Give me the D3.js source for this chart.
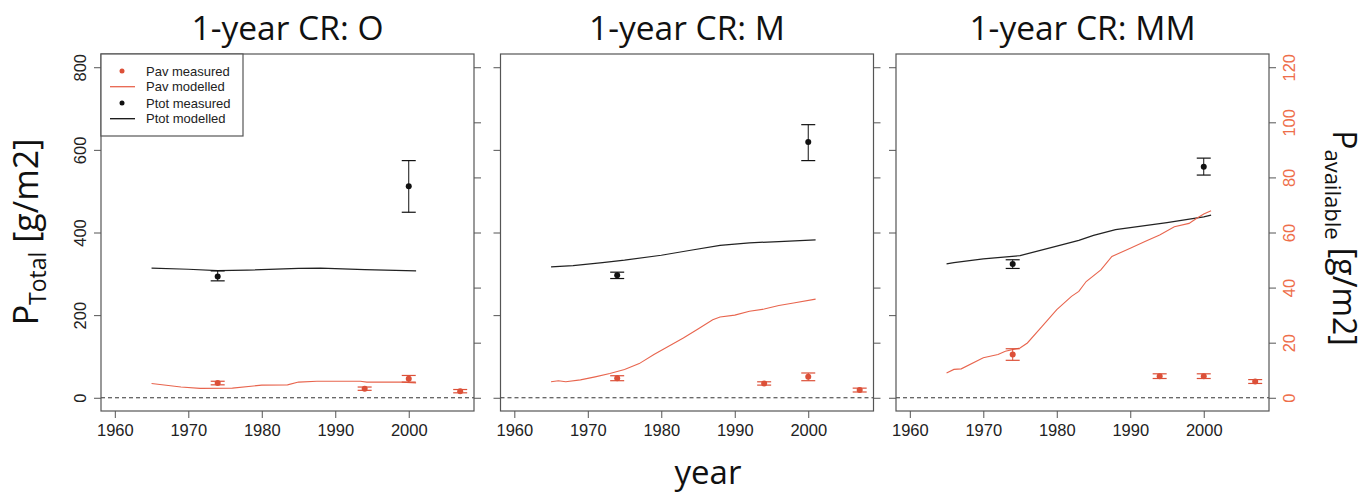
<!DOCTYPE html>
<html><head><meta charset="utf-8">
<script src="https://cdn.jsdelivr.net/npm/d3@7"></script>
<style>
html,body{margin:0;padding:0;background:#fff;}
svg{display:block;}
</style></head>
<body>
<svg id="chart" width="1367" height="494"></svg>
<script>
// ---------------- DATA ----------------
const panelTitles = ["1-year CR: O", "1-year CR: M", "1-year CR: MM"];
const xTicks = [1960, 1970, 1980, 1990, 2000];
const yLeftTicks = [0, 200, 400, 600, 800];
const yRightTicks = [0, 20, 40, 60, 80, 100, 120];
const legendLabels = ["Pav measured", "Pav modelled", "Ptot measured", "Ptot modelled"];

// Ptot modelled (left axis)
const ptotModYearsO = [1965, 1970, 1974, 1978, 1985, 1988, 1994, 2001];
const ptotModO      = [314, 311, 307.5, 309, 313, 314, 310, 307];
const ptotModYearsM = [1965, 1968, 1972, 1975, 1980, 1984, 1988, 1992, 1996, 2001];
const ptotModM      = [317, 320, 327, 333, 345, 357, 369, 375, 378, 382];
const ptotModYearsMM = [1965, 1966, 1970, 1975, 1980, 1983, 1985, 1988, 1990, 1995, 2000, 2001];
const ptotModMM      = [324, 327, 336, 344, 367, 381, 393, 407, 412, 424, 438, 442];

// Pav modelled (right axis)
const pavModYearsO = [1965, 1969, 1971.6, 1976, 1980, 1983.5, 1985, 1987.5, 1993.4, 1994.3, 1999, 2001];
const pavModO      = [5.2, 3.9, 3.4, 3.5, 4.6, 4.7, 5.7, 6.0, 6.0, 5.7, 5.7, 5.4];
const pavModYearsM = [1965, 1966, 1967, 1969, 1971, 1973, 1975, 1977, 1979, 1981, 1983, 1985, 1987, 1988, 1990, 1992, 1994, 1996, 1998, 2001];
const pavModM      = [5.8, 6.2, 5.8, 6.5, 7.6, 8.8, 10.3, 12.4, 15.7, 18.7, 21.7, 25.0, 28.3, 29.3, 30.0, 31.4, 32.2, 33.5, 34.4, 35.8];
const pavModYearsMM = [1965, 1966, 1967, 1970, 1972, 1973, 1975, 1976, 1978, 1980, 1982, 1983, 1984, 1986, 1987.5, 1990, 1992, 1994, 1996, 1998, 1999, 2000, 2001];
const pavModMM      = [9.0, 10.3, 10.5, 14.5, 15.7, 16.9, 18.1, 19.9, 25.9, 32.0, 36.8, 38.6, 42.2, 46.4, 51.3, 54.3, 56.7, 59.1, 62.1, 63.3, 65.1, 66.7, 67.9];

// Ptot measured (left axis): value, low, high
const ptotMeasYears = [1974, 2000];
const ptotMeasO  = [293.5, 512];
const ptotLoO    = [283, 449];
const ptotHiO    = [307, 574];
const ptotMeasM  = [296.7, 619];
const ptotLoM    = [288.6, 574];
const ptotHiM    = [304, 661];
const ptotMeasMM = [324, 559];
const ptotLoMM   = [313, 539];
const ptotHiMM   = [334, 580];

// Pav measured (right axis): value, low, high
const pavMeasYears = [1974, 1994, 2000, 2007];
const pavMeasO  = [5.4, 3.3, 6.9, 2.4];
const pavLoO    = [4.7, 2.7, 5.7, 1.8];
const pavHiO    = [6.0, 3.9, 8.1, 3.0];
const pavMeasM  = [7.1, 5.2, 7.6, 2.8];
const pavLoM    = [6.2, 4.6, 6.2, 2.1];
const pavHiM    = [8.0, 5.8, 9.0, 3.5];
const pavMeasMM = [15.7, 7.8, 7.8, 5.9];
const pavLoMM   = [13.6, 7.0, 7.0, 5.2];
const pavHiMM   = [17.8, 8.7, 8.7, 6.6];

// ---------------- BUILD ----------------
const panels = [
  {title: panelTitles[0], ptotYears: ptotModYearsO, ptot: ptotModO, pavYears: pavModYearsO, pav: pavModO,
   pm: ptotMeasO, pl: ptotLoO, ph: ptotHiO, am: pavMeasO, al: pavLoO, ah: pavHiO},
  {title: panelTitles[1], ptotYears: ptotModYearsM, ptot: ptotModM, pavYears: pavModYearsM, pav: pavModM,
   pm: ptotMeasM, pl: ptotLoM, ph: ptotHiM, am: pavMeasM, al: pavLoM, ah: pavHiM},
  {title: panelTitles[2], ptotYears: ptotModYearsMM, ptot: ptotModMM, pavYears: pavModYearsMM, pav: pavModMM,
   pm: ptotMeasMM, pl: ptotLoMM, ph: ptotHiMM, am: pavMeasMM, al: pavLoMM, ah: pavHiMM}
];

const RED = "#dc5038";
const RED_LINE = "#e8654e";
const AXIS_RED = "#ee6e4a";
const BOX = "#555";
const svg = d3.select("#chart");
const lefts = [101, 500.5, 896];
const pw = 373, plotTop = 54, plotBottom = 411;
const tickFont = "'Liberation Sans', Arial, sans-serif";
const bigFont = "'Open Sans', 'Noto Sans', sans-serif";

panels.forEach((p, i) => {
  const L = lefts[i];
  const x = d3.scaleLinear().domain([1958.12, 2008.88]).range([L, L + pw]);
  const yL = d3.scaleLinear().domain([-32, 832]).range([plotBottom, plotTop]);
  const yR = d3.scaleLinear().domain([-4.8, 124.8]).range([plotBottom, plotTop]);
  const g = svg.append("g");

  // title
  g.append("text").attr("x", L + pw / 2).attr("y", 40).attr("text-anchor", "middle")
    .attr("font-family", bigFont).attr("font-size", 33.5).attr("fill", "#111").text(p.title);

  // x axis
  const xa = g.append("g").attr("transform", `translate(0,${plotBottom})`)
    .call(d3.axisBottom(x).tickValues(xTicks).tickFormat(d3.format("d")).tickSize(7).tickSizeOuter(0).tickPadding(6));
  xa.select(".domain").remove();
  xa.selectAll("line").attr("stroke", BOX);
  xa.selectAll("text").attr("font-family", tickFont).attr("font-size", 16.5).attr("fill", "#222");

  // left axis
  const la = g.append("g").attr("transform", `translate(${L},0)`)
    .call(d3.axisLeft(yL).tickValues(yLeftTicks).tickSize(7).tickSizeOuter(0));
  la.select(".domain").remove();
  la.selectAll("line").attr("stroke", BOX);
  if (i === 0) {
    la.selectAll("text").attr("font-family", tickFont).attr("font-size", 16.5).attr("fill", "#222")
      .attr("text-anchor", "middle").attr("dy", "0").attr("x", 0).attr("y", -15)
      .attr("transform", "rotate(-90)");
  } else {
    la.selectAll("text").remove();
  }

  // right axis
  const ra = g.append("g").attr("transform", `translate(${L + pw},0)`)
    .call(d3.axisRight(yR).tickValues(yRightTicks).tickSize(7).tickSizeOuter(0));
  ra.select(".domain").remove();
  ra.selectAll("line").attr("stroke", BOX);
  if (i === 2) {
    ra.selectAll("text").attr("font-family", tickFont).attr("font-size", 16.5).attr("fill", AXIS_RED)
      .attr("text-anchor", "middle").attr("dy", "0").attr("x", 0).attr("y", 26)
      .attr("transform", "rotate(-90)");
  } else {
    ra.selectAll("text").remove();
  }

  // zero dashed line
  g.append("line").attr("x1", L).attr("x2", L + pw).attr("y1", yL(0)).attr("y2", yL(0))
    .attr("stroke", "#333").attr("stroke-width", 1).attr("stroke-dasharray", "4,3");

  // Ptot modelled line
  const lineL = d3.line().x(d => x(d[0])).y(d => yL(d[1]));
  g.append("path").datum(d3.zip(p.ptotYears, p.ptot)).attr("d", lineL)
    .attr("fill", "none").attr("stroke", "#222").attr("stroke-width", 1.2);

  // Pav modelled line
  const lineR = d3.line().x(d => x(d[0])).y(d => yR(d[1]));
  g.append("path").datum(d3.zip(p.pavYears, p.pav)).attr("d", lineR)
    .attr("fill", "none").attr("stroke", RED_LINE).attr("stroke-width", 1.1);

  // error bars helper
  function errBars(years, vals, lo, hi, ys, color) {
    const cw = 7;
    years.forEach((yr, k) => {
      const cx = x(yr);
      g.append("line").attr("x1", cx).attr("x2", cx).attr("y1", ys(lo[k])).attr("y2", ys(hi[k]))
        .attr("stroke", color).attr("stroke-width", 1);
      [lo[k], hi[k]].forEach(v => {
        g.append("line").attr("x1", cx - cw).attr("x2", cx + cw).attr("y1", ys(v)).attr("y2", ys(v))
          .attr("stroke", color).attr("stroke-width", 1.2);
      });
      g.append("circle").attr("cx", cx).attr("cy", ys(vals[k])).attr("r", 3).attr("fill", color);
    });
  }
  errBars(ptotMeasYears, p.pm, p.pl, p.ph, yL, "#111");
  errBars(pavMeasYears, p.am, p.al, p.ah, yR, RED);

  // box
  g.append("rect").attr("x", L).attr("y", plotTop).attr("width", pw).attr("height", plotBottom - plotTop)
    .attr("fill", "none").attr("stroke", BOX).attr("stroke-width", 1.2);

  // legend (first panel)
  if (i === 0) {
    const lg = g.append("g");
    lg.append("rect").attr("x", L).attr("y", plotTop).attr("width", 142).attr("height", 82)
      .attr("fill", "#fff").attr("stroke", BOX).attr("stroke-width", 1.2);
    const ly = [71, 86.7, 103, 118.7];
    legendLabels.forEach((lab, k) => {
      const color = k < 2 ? RED : "#111";
      if (k % 2 === 0) {
        lg.append("circle").attr("cx", 122).attr("cy", ly[k]).attr("r", 2.5).attr("fill", color);
      } else {
        lg.append("line").attr("x1", 110).attr("x2", 135).attr("y1", ly[k]).attr("y2", ly[k])
          .attr("stroke", k < 2 ? RED_LINE : "#111").attr("stroke-width", 1.3);
      }
      lg.append("text").attr("x", 146).attr("y", ly[k]).attr("dy", "0.35em")
        .attr("font-family", tickFont).attr("font-size", 13).attr("fill", "#222").text(lab);
    });
  }
});

// axis labels
const yl = svg.append("text").attr("transform", "translate(38,232) rotate(-90)").attr("text-anchor", "middle")
  .attr("font-family", bigFont).attr("font-size", 34).attr("fill", "#111");
yl.append("tspan").text("P");
yl.append("tspan").attr("font-size", 23).attr("dy", 8).text("Total");
yl.append("tspan").attr("dy", -8).text(" [g/m2]");

const yr = svg.append("text").attr("transform", "translate(1333,238) rotate(90)").attr("text-anchor", "middle")
  .attr("font-family", bigFont).attr("font-size", 32).attr("fill", "#111");
yr.append("tspan").text("P");
yr.append("tspan").attr("font-size", 22).attr("dy", 8).text("available");
yr.append("tspan").attr("dy", -8).text(" [g/m2]");

svg.append("text").attr("x", 708).attr("y", 484).attr("text-anchor", "middle")
  .attr("font-family", bigFont).attr("font-size", 33).attr("fill", "#111").text("year");
</script>
</body></html>
